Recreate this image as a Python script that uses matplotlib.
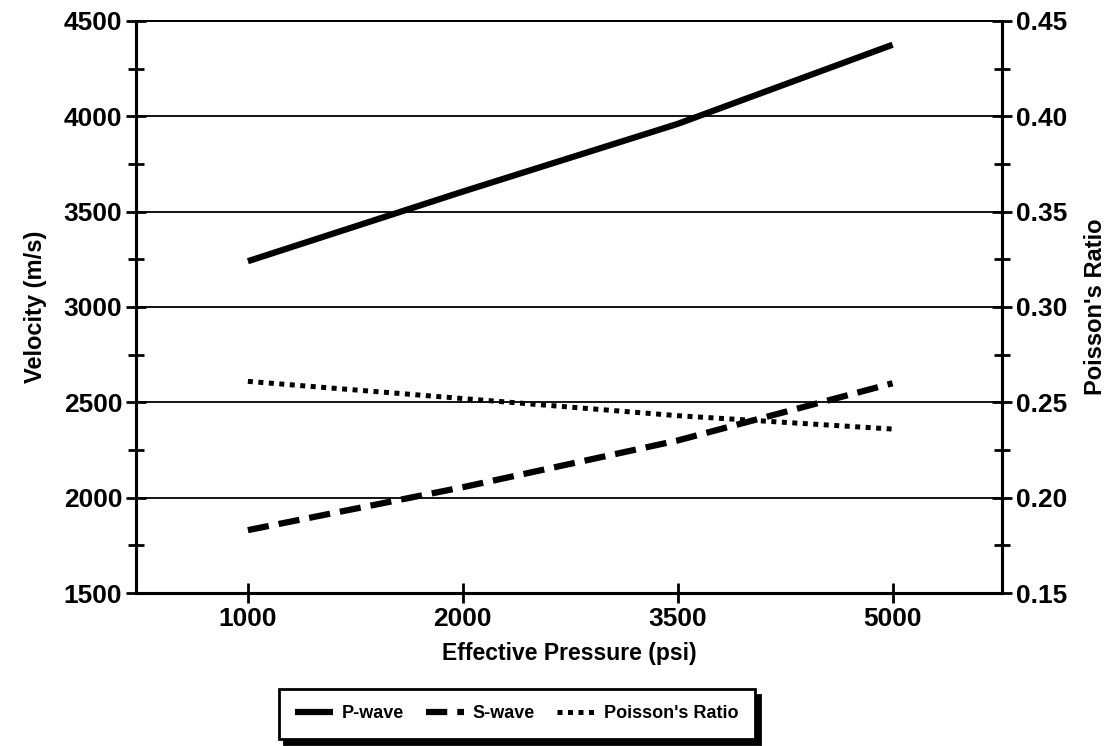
import numpy as np
import matplotlib.pyplot as plt
from matplotlib.ticker import MultipleLocator

plt.rcParams['font.family'] = ['Liberation Sans', 'DejaVu Sans']
plt.rcParams['font.weight'] = 'bold'

# 数据
pressure = ['1000', '2000', '3500', '5000']
p_wave = [3240, 3605, 3960, 4375]
s_wave = [1830, 2055, 2300, 2600]
poisson = [0.261, 0.252, 0.243, 0.236]

x = np.arange(len(pressure))

fig = plt.figure(figsize=(11.16, 7.46), dpi=100)
ax = fig.add_axes([0.122, 0.205, 0.776, 0.767])
ax2 = ax.twinx()

# 网格线在底层
ax.set_axisbelow(True)
ax.grid(axis='y', color='black', linewidth=1.3)

l1, = ax.plot(x, p_wave, color='black', linewidth=4.5, solid_capstyle='butt', label='P-wave')
l2, = ax.plot(x, s_wave, color='black', linewidth=4.5, linestyle=(0, (3.4, 1.6)),
              dash_capstyle='butt', label='S-wave')
l3, = ax2.plot(x, poisson, color='black', linewidth=3.6, linestyle=(0, (1, 1.1)),
               dash_capstyle='butt', label="Poisson's Ratio")

ax.set_xlim(-0.52, 3.51)
ax.set_ylim(1500, 4500)
ax2.set_ylim(0.15, 0.45)

ax.set_xticks(x)
ax.set_xticklabels(pressure)
ax.yaxis.set_major_locator(MultipleLocator(500))
ax.yaxis.set_minor_locator(MultipleLocator(250))
ax2.yaxis.set_major_locator(MultipleLocator(0.05))
ax2.yaxis.set_minor_locator(MultipleLocator(0.025))
ax2.yaxis.set_major_formatter(lambda v, pos: f'{v:.2f}')

for a in (ax, ax2):
    a.tick_params(axis='both', which='both', direction='inout', width=2, labelsize=19)
    a.tick_params(which='major', length=14, pad=3)
    a.tick_params(which='minor', length=12)
    for s in a.spines.values():
        s.set_linewidth(2.2)
    a.spines['top'].set_linewidth(1.3)

ax.set_xlabel('Effective Pressure (psi)', fontsize=16.5, fontweight='bold', labelpad=8)
ax.set_ylabel('Velocity (m/s)', fontsize=17, fontweight='bold', labelpad=12)
ax2.set_ylabel("Poisson's Ratio", fontsize=17, fontweight='bold', labelpad=12)

leg = fig.legend(handles=[l1, l2, l3], loc='center', bbox_to_anchor=(0.463, 0.043),
                 ncol=3, frameon=True, fancybox=False, fontsize=13,
                 handlelength=2.1, columnspacing=1.2, handletextpad=0.5,
                 borderpad=0.9, shadow={'color': 'black', 'alpha': 1, 'ox': 4, 'oy': -4})
leg.get_frame().set_edgecolor('black')
leg.get_frame().set_linewidth(2)

plt.savefig('out.png', dpi=100)
